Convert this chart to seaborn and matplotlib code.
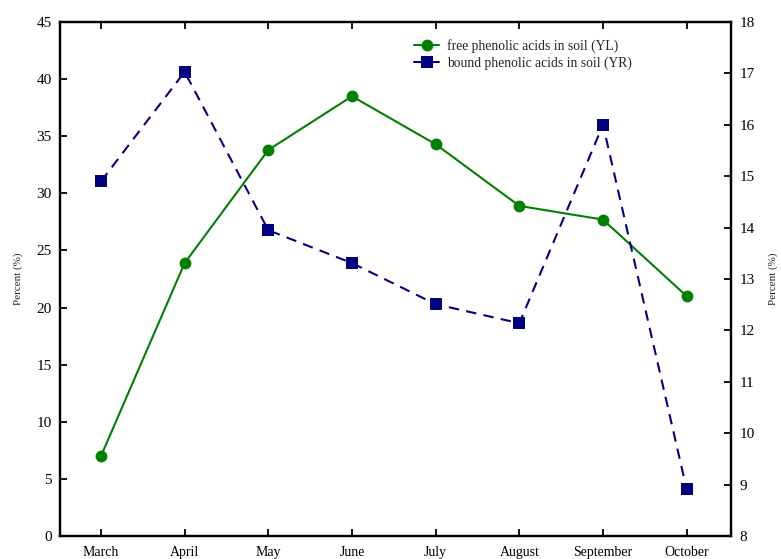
import matplotlib
matplotlib.use("Agg")
import matplotlib.pyplot as plt
import seaborn as sns
import pandas as pd

months = ["March", "April", "May", "June", "July", "August", "September", "October"]
free_acids = [7.0, 23.9, 33.8, 38.5, 34.3, 28.9, 27.7, 21.0]
bound_acids = [14.9, 17.03, 13.95, 13.31, 12.51, 12.14, 16.0, 8.91]
left_ticks = [0, 5, 10, 15, 20, 25, 30, 35, 40, 45]
right_ticks = [8, 9, 10, 11, 12, 13, 14, 15, 16, 17, 18]

sns.set_theme(style="white")
plt.rcParams['font.family'] = ['Liberation Serif', 'DejaVu Serif']

df = pd.DataFrame({"x": range(len(months)), "free": free_acids, "bound": bound_acids})

fig = plt.figure(figsize=(7.81, 5.59), dpi=100)
ax = fig.add_axes([0.0768, 0.0411, 0.8592, 0.9195])
ax2 = ax.twinx()

sns.lineplot(data=df, x="x", y="free", ax=ax, color="#008000", marker="o",
             markersize=8.5, markeredgewidth=0, linewidth=1.5, sort=False,
             label="free phenolic acids in soil (YL)", legend=False)
sns.lineplot(data=df, x="x", y="bound", ax=ax2, color="#000080", marker="s",
             markersize=8.5, markeredgewidth=0, linewidth=1.5, sort=False,
             linestyle=(0, (5, 3.5)),
             label="bound phenolic acids in soil (YR)", legend=False)

ax.set_xlim(-0.49, 7.53)
ax.set_ylim(0, 45)
ax2.set_ylim(8, 18)
ax.set_xticks(range(len(months)))
ax.set_xticklabels(months, fontsize=10)
ax.set_yticks(left_ticks)
ax.set_yticklabels([str(t) for t in left_ticks], fontsize=11)
ax2.set_yticks(right_ticks)
ax2.set_yticklabels([str(t) for t in right_ticks], fontsize=11)
ax.set_xlabel("")
ax.set_ylabel("Percent (%)", fontsize=8, labelpad=10)
ax2.set_ylabel("Percent (%)", fontsize=8, labelpad=10)

for a in (ax, ax2):
    for s in a.spines.values():
        s.set_color("black")
        s.set_linewidth(1.6)
ax.tick_params(axis="x", direction="in", top=True, bottom=True, length=5, width=1.3,
               colors="black", pad=7)
ax.tick_params(axis="y", direction="in", left=True, right=False, length=5, width=1.3,
               colors="black", pad=6)
ax2.tick_params(axis="y", direction="in", right=True, left=False, length=5, width=1.3,
                colors="black", pad=6)
ax.grid(False)
ax2.grid(False)

h1, l1 = ax.get_legend_handles_labels()
h2, l2 = ax2.get_legend_handles_labels()
leg = ax2.legend(h1 + h2, l1 + l2, loc="upper left", bbox_to_anchor=(0.51, 0.99),
                 frameon=False, fontsize=9.8, handlelength=1.8, handletextpad=0.6,
                 labelspacing=0.2, markerscale=1.0)
for h in leg.legend_handles:
    h.set_linestyle("-")

fig.savefig("out.png", dpi=100)
